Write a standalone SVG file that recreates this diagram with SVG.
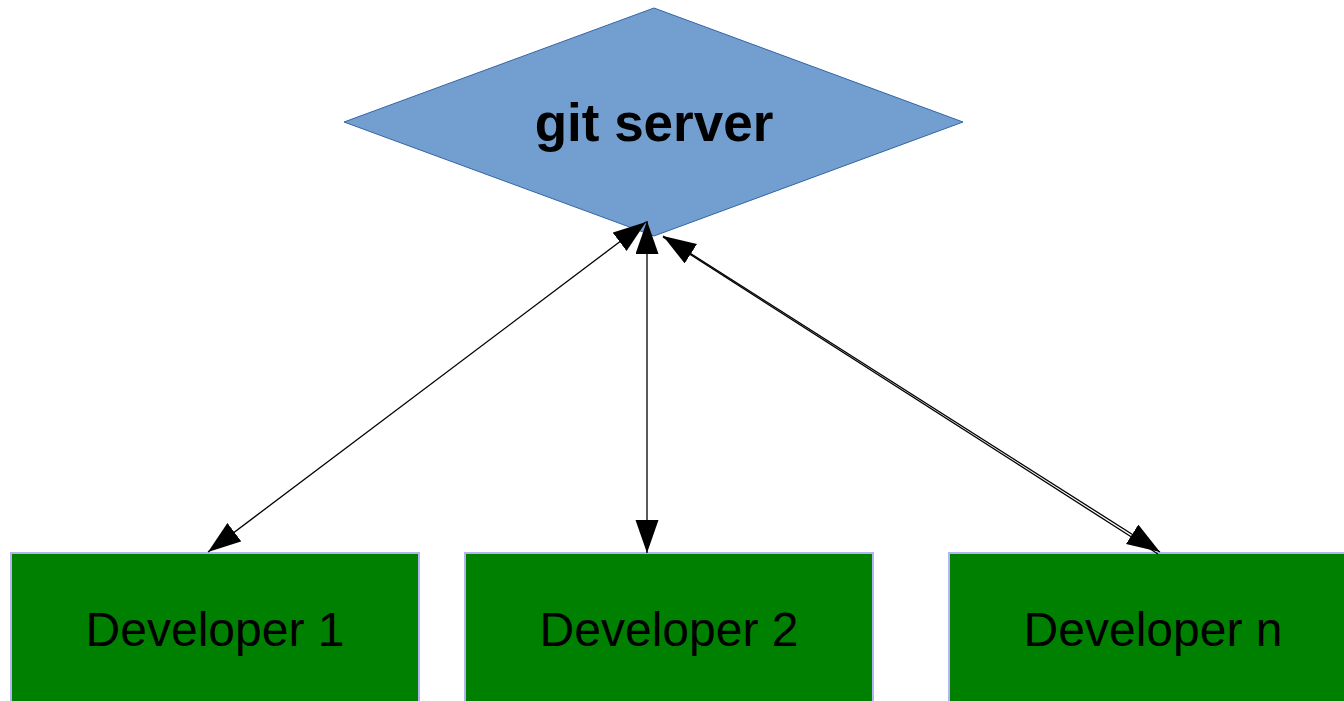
<svg xmlns="http://www.w3.org/2000/svg" width="1344" height="701" viewBox="0 0 1344 701">
<style>
.dev{fill:#008000;stroke:#b4b4f0;stroke-width:2}
.lbl{font-family:"Liberation Sans",Arial,sans-serif;font-size:48px;fill:#000;text-anchor:middle}
.edge{stroke:#000;stroke-width:1.3;fill:none}
</style>
<defs>
<marker id="ah" markerUnits="userSpaceOnUse" markerWidth="34" markerHeight="24" refX="33" refY="11.5" orient="auto-start-reverse" viewBox="0 0 34 24">
<path d="M0,0 L33,11.5 L0,23 z" fill="#000"/>
</marker>
</defs>
<rect width="1344" height="701" fill="#fff"/>
<g id="git-server">
<polygon points="654,8 963,122 654,236 344,122" fill="#729fcf" stroke="#3465a4" stroke-width="1"/>
<text x="654" y="141" font-family="Liberation Sans,Arial,sans-serif" font-size="53" font-weight="bold" text-anchor="middle">git server</text>
</g>
<g id="dev1">
<rect class="dev" x="11" y="553" width="408" height="160"/>
<text class="lbl" x="215" y="646">Developer 1</text>
</g>
<g id="dev2">
<rect class="dev" x="465" y="553" width="408" height="160"/>
<text class="lbl" x="669" y="646">Developer 2</text>
</g>
<g id="devn">
<rect class="dev" x="949" y="553" width="408" height="160"/>
<text class="lbl" x="1153" y="646">Developer n</text>
</g>
<g id="connectors">
<line class="edge" x1="646" y1="222" x2="208" y2="552" marker-start="url(#ah)" marker-end="url(#ah)"/>
<line class="edge" x1="647" y1="221" x2="647" y2="553" marker-start="url(#ah)" marker-end="url(#ah)"/>
<line class="edge" x1="663" y1="236" x2="1160" y2="552" marker-start="url(#ah)" marker-end="url(#ah)"/>
<line class="edge" x1="663" y1="237" x2="1158" y2="554"/>
</g>
</svg>
